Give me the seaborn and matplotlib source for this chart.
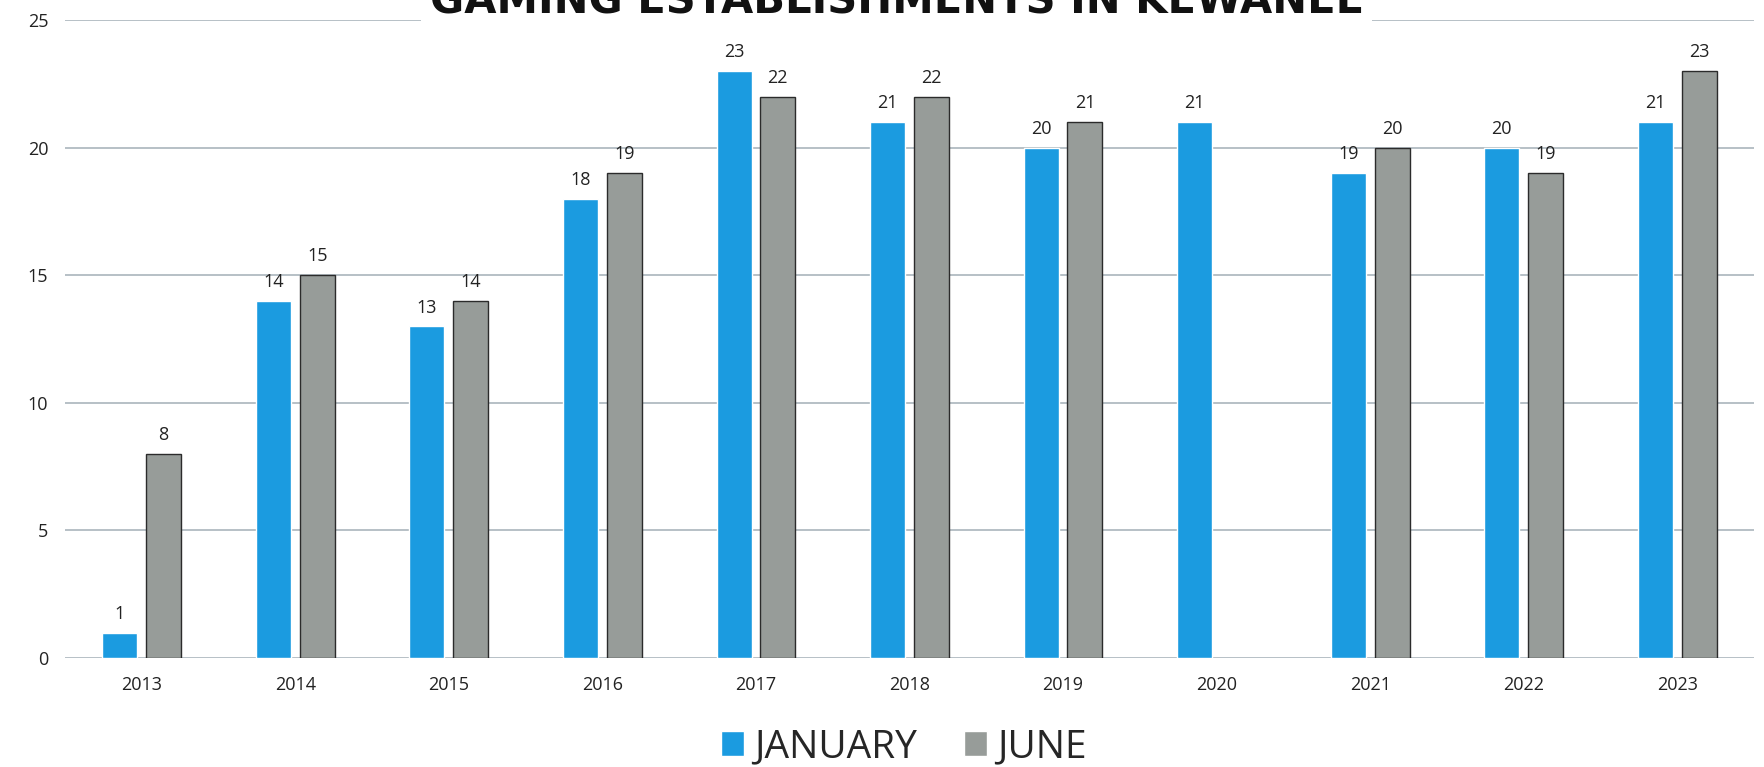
import pandas as pd
import numpy as np
import matplotlib
matplotlib.use("Agg")
import matplotlib.pyplot as plt
import seaborn as sns

# Data
years = ["2013", "2014", "2015", "2016", "2017", "2018", "2019", "2020", "2021", "2022", "2023"]
january = [1, 14, 13, 18, 23, 21, 20, 21, 19, 20, 21]
june = [8, 15, 14, 19, 22, 22, 21, np.nan, 20, 19, 23]
months = ["JANUARY", "JUNE"]
title = "GAMING ESTABLISHMENTS IN KEWANEE"

df = pd.DataFrame({
    "year": years * 2,
    "month": [months[0]] * len(years) + [months[1]] * len(years),
    "count": january + june,
})
df = df.dropna()

sns.set_style("white")
plt.rcParams["font.family"] = ["Open Sans", "DejaVu Sans"]

fig = plt.figure(figsize=(17.65, 7.67), dpi=100)
ax = fig.add_axes([0.0368, 0.142, 0.957, 0.832])

sns.barplot(data=df, x="year", y="count", hue="month", order=years,
            hue_order=months, palette=["#1b9be0", "#979c99"],
            width=0.57, gap=0.2, saturation=1, ax=ax, legend=True)

# dark outline on the June bars only
for bar in ax.containers[1]:
    bar.set_edgecolor("#2b2b2b")
    bar.set_linewidth(1.0)

for cont in ax.containers:
    ax.bar_label(cont, fmt="%d", padding=7, fontsize=13, color="#222222")

ax.set_xlim(-0.5, 10.5)
ax.set_ylim(0, 25)
ax.set_yticks([0, 5, 10, 15, 20, 25])
ax.grid(axis="y", color="#a3afb6", linewidth=1.1)
ax.set_axisbelow(True)
sns.despine(ax=ax, left=True, bottom=True)
ax.tick_params(axis="x", length=0, pad=13, labelsize=13, labelcolor="#222222")
ax.tick_params(axis="y", length=0, pad=12, labelsize=13, labelcolor="#222222")
ax.set_xlabel("")
ax.set_ylabel("")

handles, labels = ax.get_legend_handles_labels()
ax.get_legend().remove()
fig.legend(handles, labels, loc="lower center", bbox_to_anchor=(0.512, -0.045),
           ncol=2, frameon=False, fontsize=28, handlelength=0.6,
           handleheight=0.6, handletextpad=0.25, columnspacing=1.2)

fig.text(0.508, 0.982, title, ha="center", va="baseline", fontsize=30,
         fontweight="bold", family=["DejaVu Sans"], color="#111111",
         bbox=dict(facecolor="white", edgecolor="none", pad=6))

fig.savefig("out.png", dpi=100)
